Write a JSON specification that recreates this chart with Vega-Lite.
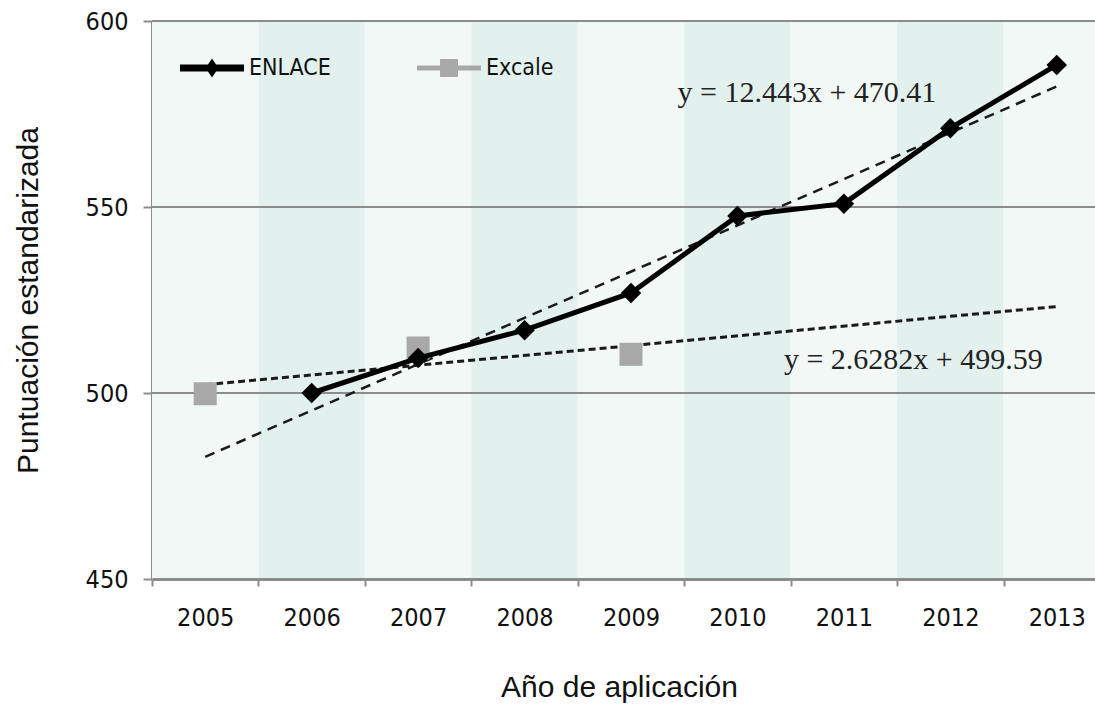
{
  "$schema": "https://vega.github.io/schema/vega-lite/v6.json",
  "width": 958,
  "height": 558,
  "autosize": {"type": "none"},
  "padding": {"left": 152, "top": 21, "right": -15, "bottom": 125},
  "background": "white",
  "datasets": {
    "years": [
      {"year": 2005}, {"year": 2006}, {"year": 2007}, {"year": 2008}, {"year": 2009},
      {"year": 2010}, {"year": 2011}, {"year": 2012}, {"year": 2013}
    ],
    "grid": [{"value": 500}, {"value": 550}, {"value": 600}],
    "scores": [
      {"year": 2006, "series": "ENLACE", "value": 500.0},
      {"year": 2007, "series": "ENLACE", "value": 509.4},
      {"year": 2008, "series": "ENLACE", "value": 516.9},
      {"year": 2009, "series": "ENLACE", "value": 526.9},
      {"year": 2010, "series": "ENLACE", "value": 547.6},
      {"year": 2011, "series": "ENLACE", "value": 550.9},
      {"year": 2012, "series": "ENLACE", "value": 571.2},
      {"year": 2013, "series": "ENLACE", "value": 588.2},
      {"year": 2005, "series": "Excale", "value": 499.8},
      {"year": 2007, "series": "Excale", "value": 512.1},
      {"year": 2009, "series": "Excale", "value": 510.4}
    ],
    "trend": [
      {"year": 2005, "series": "ENLACE", "value": 482.85},
      {"year": 2013, "series": "ENLACE", "value": 582.4},
      {"year": 2005, "series": "Excale", "value": 502.22},
      {"year": 2013, "series": "Excale", "value": 523.24}
    ],
    "equations": [
      {"year": 2012, "value": 580.6, "label": "y = 12.443x + 470.41"},
      {"year": 2013, "value": 508.9, "label": "y = 2.6282x + 499.59"}
    ]
  },
  "config": {
    "view": {"stroke": null},
    "font": "DejaVu Sans Condensed, Liberation Sans, sans-serif"
  },
  "layer": [
    {
      "data": {"name": "years"},
      "mark": {"type": "rect"},
      "encoding": {
        "x": {
          "field": "year", "type": "ordinal",
          "scale": {"paddingInner": 0, "paddingOuter": 0},
          "axis": {
            "title": "Año de aplicación",
            "titleX": 467,
            "labelAngle": 0,
            "domainColor": "#8c8c8c", "domainWidth": 3,
            "tickColor": "#8c8c8c", "tickWidth": 2, "tickSize": 7,
            "tickBand": "extent",
            "labelFont": "DejaVu Sans Condensed, sans-serif",
            "labelFontSize": 25, "labelColor": "#111111", "labelPadding": 19,
            "titleFont": "Liberation Sans, sans-serif",
            "titleFontSize": 30, "titleFontWeight": "normal", "titleColor": "#111111",
            "titlePadding": 42,
            "grid": false
          }
        },
        "y": {
          "datum": 450, "type": "quantitative",
          "scale": {"domain": [450, 600], "nice": false, "zero": false},
          "axis": {
            "title": "Puntuación estandarizada",
            "values": [450, 500, 550, 600],
            "grid": false,
            "domainColor": "#8c8c8c", "domainWidth": 3,
            "tickColor": "#8c8c8c", "tickWidth": 2, "tickSize": 9,
            "labelFont": "DejaVu Sans Condensed, sans-serif",
            "labelFontSize": 25, "labelColor": "#111111", "labelPadding": 15,
            "titleFont": "Liberation Sans, sans-serif",
            "titleFontSize": 30, "titleFontWeight": "normal", "titleColor": "#111111",
            "titlePadding": 42
          }
        },
        "y2": {"datum": 600},
        "fill": {
          "condition": {"test": "datum.year % 2 === 0", "value": "#e2f1ee"},
          "value": "#f1f8f6"
        }
      }
    },
    {
      "data": {"name": "grid"},
      "mark": {"type": "rule", "color": "#8c8c8c", "strokeWidth": 2},
      "encoding": {
        "y": {"field": "value", "type": "quantitative"}
      }
    },
    {
      "data": {"name": "trend"},
      "transform": [{"filter": "datum.series === 'ENLACE'"}],
      "mark": {"type": "line", "color": "#1a1a1a", "strokeWidth": 2.5, "strokeDash": [10, 7]},
      "encoding": {
        "x": {"field": "year", "type": "ordinal"},
        "y": {"field": "value", "type": "quantitative"}
      }
    },
    {
      "data": {"name": "trend"},
      "transform": [{"filter": "datum.series === 'Excale'"}],
      "mark": {"type": "line", "color": "#1a1a1a", "strokeWidth": 3, "strokeDash": [7, 4]},
      "encoding": {
        "x": {"field": "year", "type": "ordinal"},
        "y": {"field": "value", "type": "quantitative"}
      }
    },
    {
      "data": {"name": "scores"},
      "transform": [{"filter": "datum.series === 'Excale'"}],
      "mark": {"type": "point", "shape": "square", "size": 530, "filled": true, "opacity": 1},
      "encoding": {
        "x": {"field": "year", "type": "ordinal"},
        "y": {"field": "value", "type": "quantitative"},
        "color": {
          "field": "series", "type": "nominal",
          "scale": {"domain": ["ENLACE", "Excale"], "range": ["#000000", "#a8a8a8"]}
        }
      }
    },
    {
      "data": {"name": "scores"},
      "transform": [{"filter": "datum.series === 'ENLACE'"}],
      "mark": {
        "type": "line", "strokeWidth": 5,
        "point": {"shape": "diamond", "size": 420, "filled": true, "opacity": 1}
      },
      "encoding": {
        "x": {"field": "year", "type": "ordinal"},
        "y": {"field": "value", "type": "quantitative"},
        "color": {
          "field": "series", "type": "nominal",
          "scale": {"domain": ["ENLACE", "Excale"], "range": ["#000000", "#a8a8a8"]},
          "legend": {
            "orient": "none",
            "legendX": 28,
            "legendY": 15,
            "direction": "horizontal",
            "title": null,
            "padding": 0,
            "symbolSize": 4096,
            "symbolStrokeWidth": 0,
            "labelOffset": 5,
            "columnPadding": 86,
            "labelFont": "DejaVu Sans Condensed, sans-serif",
            "labelFontSize": 23,
            "labelColor": "#111111",
            "encode": {
              "symbols": {
                "update": {
                  "shape": {"signal": "datum.value === 'ENLACE' ? 'M-1,-0.11L1,-0.11L1,0.11L-1,0.11Z M0,-0.3L0.2,0L0,0.3L-0.2,0Z' : 'M-1,-0.08L1,-0.08L1,0.08L-1,0.08Z M-0.28,-0.28L0.28,-0.28L0.28,0.28L-0.28,0.28Z'"},
                  "fill": {"signal": "datum.value === 'ENLACE' ? '#000000' : '#b0b0b0'"},
                  "fillOpacity": {"value": 1},
                  "opacity": {"value": 1},
                  "strokeWidth": {"value": 0},
                  "size": {"value": 4096}
                }
              }
            }
          }
        }
      }
    },
    {
      "data": {"name": "equations"},
      "mark": {
        "type": "text", "align": "right", "baseline": "middle", "dx": -14,
        "font": "Liberation Serif, Times New Roman, serif", "fontSize": 30, "color": "#222222"
      },
      "encoding": {
        "x": {"field": "year", "type": "ordinal"},
        "y": {"field": "value", "type": "quantitative"},
        "text": {"field": "label"}
      }
    }
  ]
}
